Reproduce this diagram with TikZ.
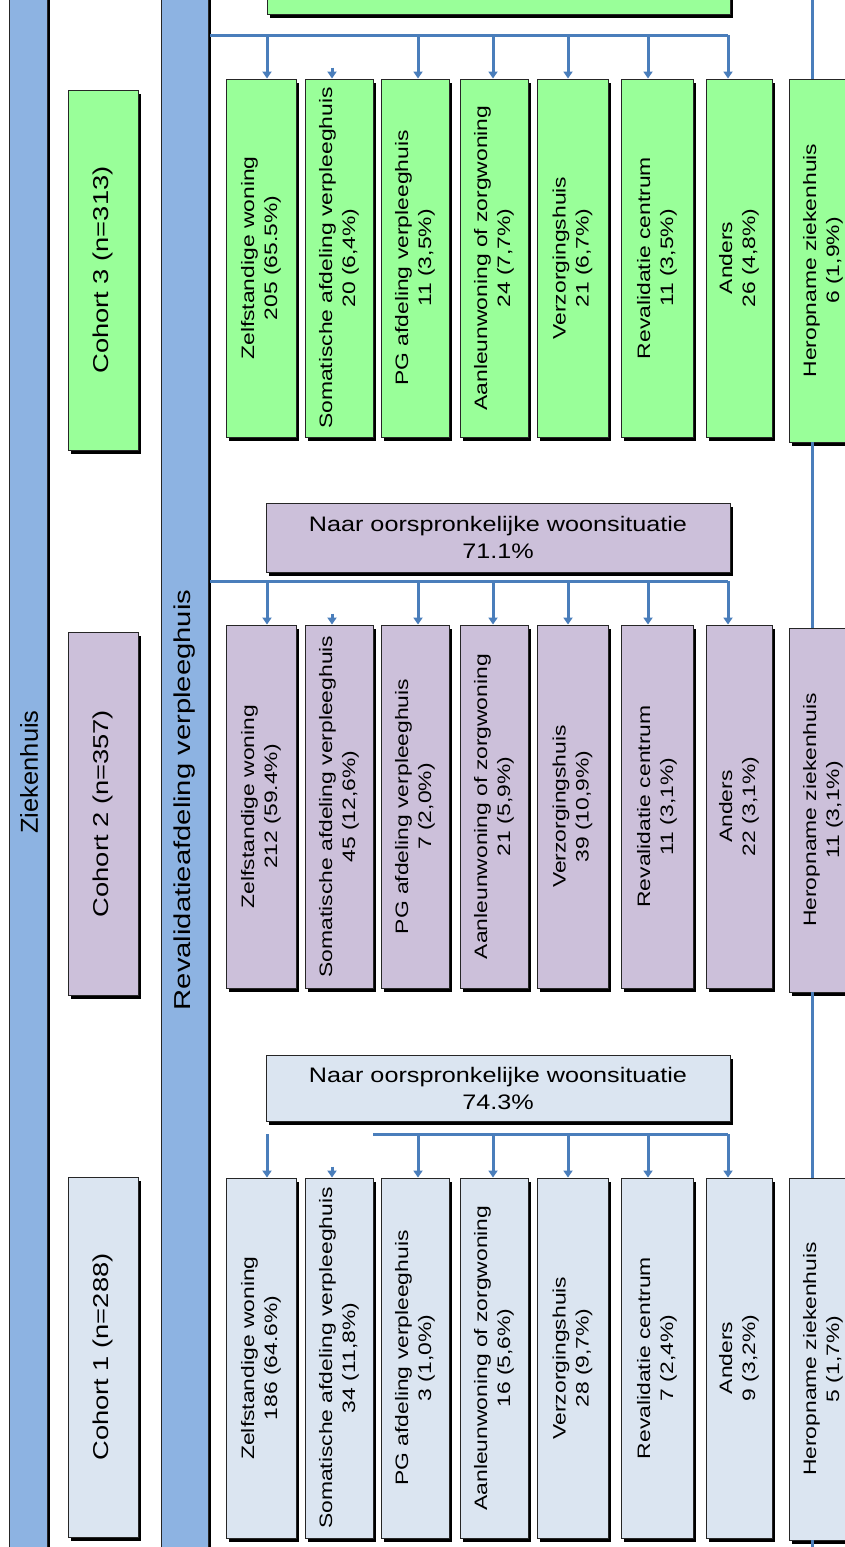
\documentclass[tikz,border=0pt]{standalone}
\usepackage{fontspec}
\setmainfont{Liberation Sans}
\newfontfamily\rotfont[FakeStretch=1.27]{Liberation Sans}
\newfontfamily\horfont[FakeStretch=1.2]{Liberation Sans}
\newfontfamily\zfont[FakeStretch=1.04]{Liberation Sans}
\usetikzlibrary{shadows,arrows.meta}
\definecolor{cgreen}{HTML}{99FF99}
\definecolor{cpurple}{HTML}{CCC0DA}
\definecolor{cblue}{HTML}{DBE5F1}
\definecolor{cbar}{HTML}{8DB3E2}
\definecolor{cline}{HTML}{4A7EBB}
\newcommand{\twolines}[2]{\rotatebox{90}{\begin{tabular}{@{}c@{}}#1\\#2\end{tabular}}}
\tikzset{
  box/.style={draw=black!85, line width=0.9pt, inner sep=0pt,
    drop shadow={shadow xshift=2.5pt, shadow yshift=-4pt, fill=black, opacity=1}},
  barbox/.style={box, fill=cbar},
  dest/.style={box, font={\rotfont\fontsize{18}{23}\selectfont}},
  g3/.style={dest, fill=cgreen, minimum height=358pt},
  p2/.style={dest, fill=cpurple, minimum height=363pt},
  b1/.style={dest, fill=cblue, minimum height=360pt},
  cohortbox/.style={box, minimum width=70pt, font={\rotfont\fontsize{21.5}{25}\selectfont}},
  naarbox/.style={box, minimum width=464pt, align=center, font={\horfont\fontsize{21}{27}\selectfont}},
  barlabel/.style={inner sep=0pt},
  conn/.style={draw=cline, line width=3pt},
  arr/.style={conn, -{Triangle[length=7pt,width=9pt]}},
}
\begin{document}
\begin{tikzpicture}[x=1pt,y=-1pt]
\clip (0,0) rectangle (845,1547);
\fill[white] (0,0) rectangle (845,1547);

% vertical bars
\node[barbox, minimum width=38pt, minimum height=1620pt] (zh) at (28,773) {};
\node[barlabel, font={\zfont\fontsize{24.5}{28}\selectfont}] (zhl) at (29,772) {\rotatebox{90}{Ziekenhuis}};
\node[barbox, minimum width=47pt, minimum height=1620pt] (rv) at (184.5,773) {};
\node[barlabel, font={\rotfont\fontsize{23}{27}\selectfont}] (rvl) at (184.5,800) {\rotatebox{90}{Revalidatieafdeling verpleeghuis}};

% cohort boxes
\node[cohortbox, fill=cgreen, minimum height=360pt] (k3) at (103,270) {\rotatebox{90}{Cohort 3 (n=313)}};
\node[cohortbox, fill=cpurple, minimum height=363pt] (k2) at (103,813.5) {\rotatebox{90}{Cohort 2 (n=357)}};
\node[cohortbox, fill=cblue, minimum height=360pt] (k1) at (103,1357) {\rotatebox{90}{Cohort 1 (n=288)}};

% horizontal summary boxes
\node[box, fill=cgreen, minimum width=463pt, minimum height=80pt] (n3) at (498.5,-26) {};
\node[naarbox, fill=cpurple, minimum height=69pt] (n2) at (498,537.5) {Naar oorspronkelijke woonsituatie\\71.1\%};
\node[naarbox, fill=cblue, minimum height=66pt] (n1) at (498,1088) {Naar oorspronkelijke woonsituatie\\74.3\%};

% cohort 3 destinations
\node[g3, minimum width=70pt] (d3a) at (261,258) {\twolines{Zelfstandige woning}{205 (65.5\%)}};
\node[g3, minimum width=68pt] (d3b) at (339,258) {\twolines{Somatische afdeling verpleeghuis}{20 (6,4\%)}};
\node[g3, minimum width=68pt] (d3c) at (415,258) {\twolines{PG afdeling verpleeghuis}{11 (3,5\%)}};
\node[g3, minimum width=68pt] (d3d) at (494,258) {\twolines{Aanleunwoning of zorgwoning}{24 (7,7\%)}};
\node[g3, minimum width=71pt] (d3e) at (572.5,258) {\twolines{Verzorgingshuis}{21 (6,7\%)}};
\node[g3, minimum width=72pt] (d3f) at (657,258) {\twolines{Revalidatie centrum}{11 (3,5\%)}};
\node[g3, minimum width=66pt] (d3g) at (739,258) {\twolines{Anders}{26 (4,8\%)}};
\node[g3, minimum width=68pt, minimum height=363pt] (h3) at (823,260.5) {\twolines{Heropname ziekenhuis}{6 (1,9\%)}};

% cohort 2 destinations
\node[p2, minimum width=70pt] (d2a) at (261,806.5) {\twolines{Zelfstandige woning}{212 (59.4\%)}};
\node[p2, minimum width=68pt] (d2b) at (339,806.5) {\twolines{Somatische afdeling verpleeghuis}{45 (12,6\%)}};
\node[p2, minimum width=68pt] (d2c) at (415,806.5) {\twolines{PG afdeling verpleeghuis}{7 (2,0\%)}};
\node[p2, minimum width=68pt] (d2d) at (494,806.5) {\twolines{Aanleunwoning of zorgwoning}{21 (5,9\%)}};
\node[p2, minimum width=71pt] (d2e) at (572.5,806.5) {\twolines{Verzorgingshuis}{39 (10,9\%)}};
\node[p2, minimum width=72pt] (d2f) at (657,806.5) {\twolines{Revalidatie centrum}{11 (3,1\%)}};
\node[p2, minimum width=66pt] (d2g) at (739,806.5) {\twolines{Anders}{22 (3,1\%)}};
\node[p2, minimum width=68pt, minimum height=364pt] (h2) at (823,810) {\twolines{Heropname ziekenhuis}{11 (3,1\%)}};

% cohort 1 destinations
\node[b1, minimum width=70pt] (d1a) at (261,1358) {\twolines{Zelfstandige woning}{186 (64.6\%)}};
\node[b1, minimum width=68pt] (d1b) at (339,1358) {\twolines{Somatische afdeling verpleeghuis}{34 (11,8\%)}};
\node[b1, minimum width=68pt] (d1c) at (415,1358) {\twolines{PG afdeling verpleeghuis}{3 (1,0\%)}};
\node[b1, minimum width=68pt] (d1d) at (494,1358) {\twolines{Aanleunwoning of zorgwoning}{16 (5,6\%)}};
\node[b1, minimum width=71pt] (d1e) at (572.5,1358) {\twolines{Verzorgingshuis}{28 (9,7\%)}};
\node[b1, minimum width=72pt] (d1f) at (657,1358) {\twolines{Revalidatie centrum}{7 (2,4\%)}};
\node[b1, minimum width=66pt] (d1g) at (739,1358) {\twolines{Anders}{9 (3,2\%)}};
\node[b1, minimum width=68pt, minimum height=362pt] (h1) at (823,1359) {\twolines{Heropname ziekenhuis}{5 (1,7\%)}};

% column coordinates for connectors
\coordinate (xa) at (267,0);
\coordinate (xb) at (332,0);
\coordinate (xc) at (418,0);
\coordinate (xd) at (493,0);
\coordinate (xe) at (568,0);
\coordinate (xf) at (648,0);
\coordinate (xg) at (728,0);
\coordinate (xh) at (812,0);

% cohort 3 connectors
\coordinate (L3s) at (210,35);
\coordinate (L3e) at (728,35);
\draw[conn] (L3s) -- (L3e);
\draw[arr] (L3s -| xa) -- (d3a.north -| xa);
\draw[arr] ([yshift=11pt]d3b.north -| xb) -- (d3b.north -| xb);
\draw[arr] (L3s -| xc) -- (d3c.north -| xc);
\draw[arr] (L3s -| xd) -- (d3d.north -| xd);
\draw[arr] (L3s -| xe) -- (d3e.north -| xe);
\draw[arr] (L3s -| xf) -- (d3f.north -| xf);
\draw[arr] (L3s -| xg) -- (d3g.north -| xg);

% cohort 2 connectors
\coordinate (L2s) at (210,581);
\coordinate (L2e) at (728,581);
\draw[conn] (L2s) -- (L2e);
\draw[arr] (L2s -| xa) -- (d2a.north -| xa);
\draw[arr] ([yshift=11pt]d2b.north -| xb) -- (d2b.north -| xb);
\draw[arr] (L2s -| xc) -- (d2c.north -| xc);
\draw[arr] (L2s -| xd) -- (d2d.north -| xd);
\draw[arr] (L2s -| xe) -- (d2e.north -| xe);
\draw[arr] (L2s -| xf) -- (d2f.north -| xf);
\draw[arr] (L2s -| xg) -- (d2g.north -| xg);

% cohort 1 connectors
\coordinate (L1s) at (373,1134);
\coordinate (L1e) at (728,1134);
\draw[conn] (L1s) -- (L1e);
\draw[arr] (L1s -| xa) -- (d1a.north -| xa);
\draw[arr] ([yshift=11pt]d1b.north -| xb) -- (d1b.north -| xb);
\draw[arr] (L1s -| xc) -- (d1c.north -| xc);
\draw[arr] (L1s -| xd) -- (d1d.north -| xd);
\draw[arr] (L1s -| xe) -- (d1e.north -| xe);
\draw[arr] (L1s -| xf) -- (d1f.north -| xf);
\draw[arr] (L1s -| xg) -- (d1g.north -| xg);

% heropname line
\coordinate (topH) at (812,-10);
\coordinate (botH) at (812,1560);
\draw[conn] (topH) -- (h3.north -| xh);
\draw[conn] (h3.south -| xh) -- (h2.north -| xh);
\draw[conn] (h2.south -| xh) -- (h1.north -| xh);
\draw[conn] (h1.south -| xh) -- (botH);
\end{tikzpicture}
\end{document}
